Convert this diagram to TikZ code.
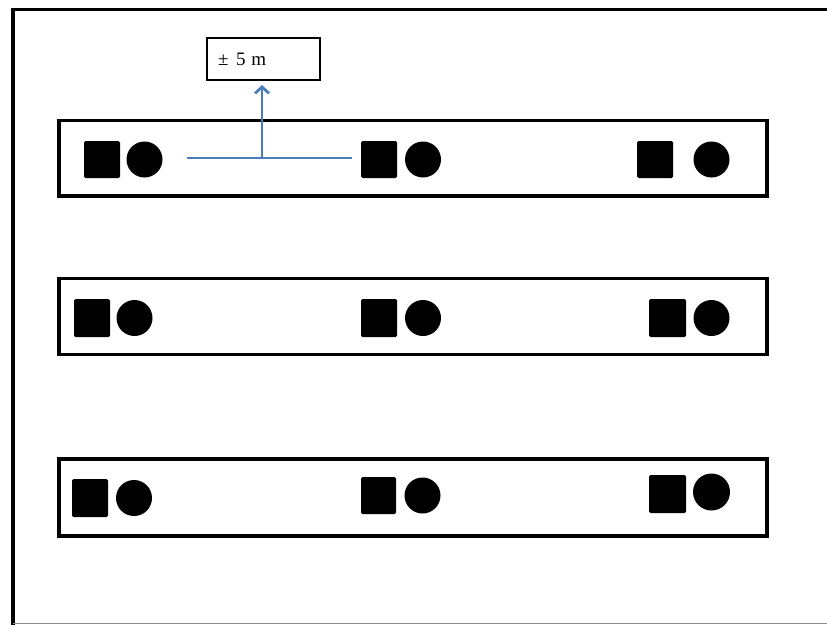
\documentclass[tikz,border=0pt]{standalone}
\usepackage{fontspec}
\setmainfont{Liberation Serif}
\usetikzlibrary{arrows.meta}
\begin{document}
\begin{tikzpicture}[x=1pt,y=-1pt,
  rowbox/.style={draw=black,line width=3.4pt},
  sq/.style={fill=black,rounded corners=1.5pt},
  dot/.style={fill=black},
  blue line/.style={draw=blueA,line width=2.8pt},
  lbl/.style={draw=black,line width=1.6pt,minimum width=113pt,minimum height=42pt,inner sep=0pt}
]
\definecolor{blueA}{RGB}{74,126,187}
\useasboundingbox (0,0) rectangle (827,624);
\clip (0,0) rectangle (827,624);
\fill[white] (0,0) rectangle (827,624);
% outer frame
\draw[line width=3.4pt] (13,626) -- (13,9.5) -- (840,9.5);
\draw[line width=1.2pt,black!45] (13,623.5) -- (840,623.5);
% rows
\draw[rowbox] (59,120.5) rectangle (767,196);
\draw[rowbox] (59,278.5) rectangle (767,354.5);
\draw[rowbox] (59,459) rectangle (767,536);
% row 1
\fill[sq] (84,141) rectangle (120,178);
\fill[dot] (144.5,159.5) circle (18);
\fill[sq] (361,141) rectangle (397,178);
\fill[dot] (423,159.5) circle (18);
\fill[sq] (637,141) rectangle (673,178);
\fill[dot] (711.5,159.5) circle (18);
% row 2
\fill[sq] (74,299) rectangle (110,337);
\fill[dot] (134.5,318) circle (18);
\fill[sq] (361,299) rectangle (397,337);
\fill[dot] (423,318) circle (18);
\fill[sq] (649,299) rectangle (686,337);
\fill[dot] (711.5,318) circle (18);
% row 3
\fill[sq] (72,479) rectangle (108,517);
\fill[dot] (134,498) circle (18);
\fill[sq] (361,477) rectangle (396,514);
\fill[dot] (422.5,495.5) circle (18);
\fill[sq] (649,475) rectangle (686,513);
\fill[dot] (711.5,492) circle (18.5);
% label and arrow
\node[lbl] (label) at (263.5,59) {};
\node[anchor=west,font=\fontsize{19}{21}\selectfont,inner sep=0pt] (txt) at (218,59.5) {±\hspace{0.4em}5\hspace{0.3em}m};
\coordinate (hl) at (187,158);
\coordinate (hr) at (352,158);
\coordinate (foot) at (262,158);
\coordinate (tip) at (262,85);
\draw[blue line] (hl) -- (hr);
\draw[blue line,-{Straight Barb[length=6.5pt,width=14pt,line width=2.8pt]}] (foot) -- (tip);
\end{tikzpicture}
\end{document}
